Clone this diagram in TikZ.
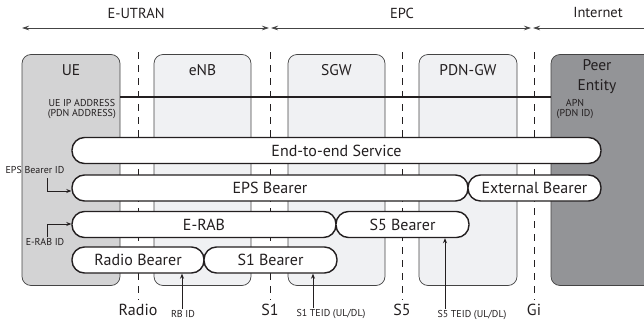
\documentclass[tikz,border=0pt]{standalone}
\usepackage{fontspec}
\setmainfont{PT Sans}
\usetikzlibrary{arrows.meta}
\definecolor{uegray}{HTML}{D3D3D4}
\definecolor{nodelight}{HTML}{F0F1F3}
\definecolor{peergray}{HTML}{939497}
\definecolor{edgegray}{HTML}{444444}
\definecolor{txt}{HTML}{231F20}
\tikzset{
  entity/.style={draw=edgegray, line width=0.7pt, rounded corners=9pt, inner sep=0pt, minimum height=231pt},
  enttext/.style={font=\fontsize{15.5}{17}\selectfont, text=txt, align=center},
  pill/.style={draw=txt, line width=1.4pt, fill=white, rounded corners=12.5pt, inner sep=0pt, minimum height=26pt, font=\fontsize{16}{18}\selectfont, text=txt},
  sep/.style={draw=txt, line width=0.8pt, dash pattern=on 7pt off 6pt},
  seplabel/.style={font=\fontsize{16}{18}\selectfont, text=txt},
  small/.style={font=\fontsize{10}{10.5}\selectfont, text=txt, align=center, inner sep=1pt},
  domarrow/.style={draw=edgegray, line width=0.7pt, {Stealth[length=7pt,width=4.5pt]}-{Stealth[length=7pt,width=4.5pt]}},
  idarrow/.style={draw=txt, line width=0.7pt, -{Stealth[length=5pt,width=4pt]}},
  domlabel/.style={font=\fontsize{14.5}{16}\selectfont, text=txt}
}
\begin{document}
\begin{tikzpicture}[x=1pt,y=-1pt]
\useasboundingbox (0,0) rectangle (644,324);
\clip (0,0) rectangle (644,324);
% domain arrows
\coordinate (a1) at (22,28); \coordinate (a2) at (269,28);
\coordinate (a3) at (271,28); \coordinate (a4) at (531,28);
\coordinate (a5) at (533,28); \coordinate (a6) at (650,28);
\draw[domarrow] (a1) -- (a2);
\draw[domarrow] (a3) -- (a4);
\draw[draw=edgegray, line width=0.7pt, {Stealth[length=7pt,width=4.5pt]}-] (a5) -- (a6);
\node[domlabel] (lutran) at (136,13) {E-UTRAN};
\node[domlabel] (lepc) at (402,13) {EPC};
\node[domlabel] (linet) at (598,13) {Internet};
% entities
\node[entity, fill=uegray, minimum width=98pt] (ue) at (71,170) {};
\node[entity, fill=nodelight, minimum width=97pt] (enb) at (202.5,170) {};
\node[entity, fill=nodelight, minimum width=97pt] (sgw) at (336.5,170) {};
\node[entity, fill=nodelight, minimum width=98pt] (pgw) at (468,170) {};
\node[entity, fill=peergray, minimum width=110pt] (peer) at (606,170) {};
\node[enttext] (uet) at (71,70) {UE};
\node[enttext] (enbt) at (202.5,70) {eNB};
\node[enttext] (sgwt) at (336.5,70) {SGW};
\node[enttext] (pgwt) at (468,70) {PDN-GW};
\node[enttext, font=\fontsize{15.5}{20}\selectfont] (peert) at (597,77) {Peer\\Entity};
% separators
\foreach \n/\x/\t in {radio/138/Radio, sone/270/S1, sfive/402/S5, gi/534/Gi}{
  \coordinate (\n t) at (\x,52);
  \coordinate (\n b) at (\x,300);
  \draw[sep] (\n t) -- (\n b);
  \node[seplabel] (\n l) at (\x,310) {\t};
}
% IP line
\draw[line width=2.5pt, draw=txt] (ue.east |- 0,97) -- (peer.west |- 0,97);
\node[small, anchor=east] (ueip) at (117,109) {UE IP ADDRESS\\(PDN ADDRESS)};
\node[small, anchor=center] (apn) at (575,109) {APN\\(PDN ID)};
% bearers
\node[pill, minimum width=529pt] (e2e) at (336.5,150.5) {End-to-end Service};
\node[pill, minimum width=396pt] (eps) at (270,188) {EPS Bearer};
\node[pill, minimum width=133pt] (ext) at (534.5,188) {External Bearer};
\node[pill, minimum width=264pt] (erab) at (204,224.5) {E-RAB};
\node[pill, minimum width=133pt] (s5b) at (402.5,224.5) {S5 Bearer};
\node[pill, minimum width=132pt] (rb) at (138,260) {Radio Bearer};
\node[pill, minimum width=133pt] (s1b) at (270.5,260) {S1 Bearer};
% ID labels and arrows
\node[small] (epsid) at (35,170) {EPS Bearer ID};
\coordinate (epsk) at (47,191);
\draw[idarrow] (47,178) -- (epsk) -- (epsk -| eps.west);
\node[small] (erabid) at (45,242) {E-RAB ID};
\coordinate (erabk) at (47,224);
\draw[idarrow] (erabid.north -| erabk) -- (erabk) -- (erabk -| erab.west);
\node[small] (rbid) at (183,314) {RB ID};
\draw[idarrow] (rbid.north -| 182,0) -- (182,0 |- rb.south);
\node[small] (s1id) at (331,314) {S1 TEID (UL/DL)};
\draw[idarrow] (s1id.north -| 313,0) -- (313,0 |- s1b.south);
\node[small] (s5id) at (472,315) {S5 TEID (UL/DL)};
\draw[idarrow] (s5id.north -| 445,0) -- (445,0 |- s5b.south);
\end{tikzpicture}
\end{document}
